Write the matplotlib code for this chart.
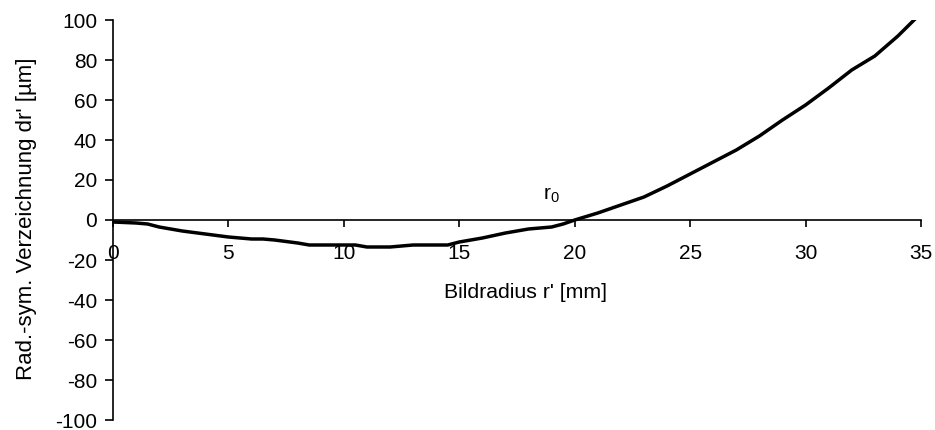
import matplotlib
matplotlib.use("Agg")
import matplotlib.pyplot as plt

plt.rcParams["font.family"] = ["Liberation Sans", "DejaVu Sans"]
plt.rcParams["axes.unicode_minus"] = False

# image radius r' [mm]
radius = [0, 1, 1.5, 2, 2.5, 3, 4, 5, 6, 6.5, 7, 8, 8.5, 9, 10, 10.5, 11, 12,
          13, 14, 14.5, 15, 16, 17, 18, 19, 19.5, 20, 21, 22, 23, 24, 25, 26,
          27, 28, 29, 30, 31, 32, 33, 34, 34.7]
# radial-symmetric distortion dr' [um]
distortion = [-1, -1.5, -2, -3.5, -4.5, -5.5, -7, -8.5, -9.5, -9.5, -10, -11.5,
              -12.5, -12.5, -12.5, -12.5, -13.5, -13.5, -12.5, -12.5, -12.5,
              -11, -9, -6.5, -4.5, -3.5, -2, 0, 3.5, 7.5, 11.5, 17, 23, 29,
              35, 42, 50, 57.5, 66, 75, 82, 92, 100]

xticks = [0, 5, 10, 15, 20, 25, 30, 35]
yticks = [-100, -80, -60, -40, -20, 0, 20, 40, 60, 80, 100]

fig = plt.figure(figsize=(9.35, 4.3), dpi=100)
ax = fig.add_axes([113 / 935, 1 - 420 / 430, 808 / 935, 400 / 430])

ax.plot(radius, distortion, color="black", linewidth=2.5, solid_joinstyle="round")

ax.set_xlim(0, 35)
ax.set_ylim(-100, 100)
ax.set_xticks(xticks)
ax.set_yticks(yticks)

# x axis runs through zero
ax.spines["bottom"].set_position(("data", 0))
ax.spines["top"].set_visible(False)
ax.spines["right"].set_visible(False)
for s in ("bottom", "left"):
    ax.spines[s].set_linewidth(1.2)

ax.tick_params(axis="x", direction="out", length=5, width=1.2, pad=12, labelsize=15)
ax.tick_params(axis="y", direction="out", length=5.5, width=1.2, pad=6, labelsize=15)

ax.set_xlabel("Bildradius r' [mm]", fontsize=15.3)
ax.xaxis.set_label_coords(0.511, 0.32)
ax.xaxis.label.set_verticalalignment("center")
ax.set_ylabel("Rad.-sym. Verzeichnung dr' [µm]", fontsize=16)
ax.yaxis.set_label_coords(-0.094, 0.504)

ax.text(19.0, 12.5, r"r$_\mathregular{0}$", fontsize=15, ha="center", va="center")

fig.savefig("out.png", dpi=100)
